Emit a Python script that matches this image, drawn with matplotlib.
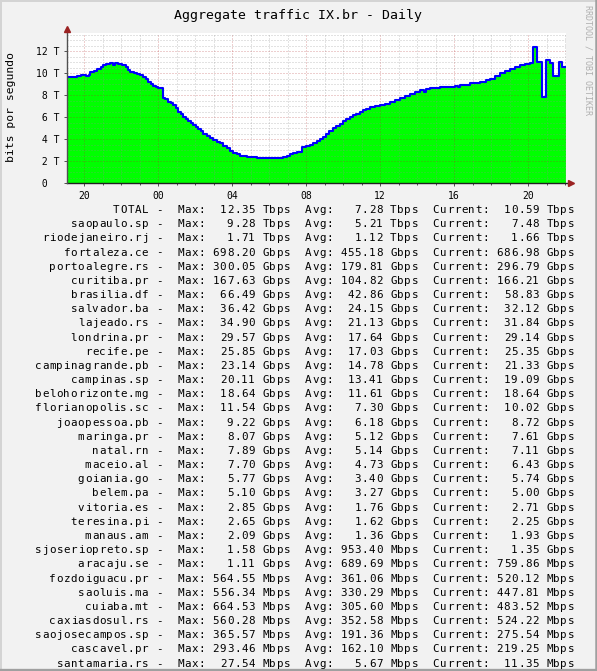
import matplotlib
matplotlib.use("Agg")
import matplotlib.pyplot as plt
from matplotlib.ticker import MultipleLocator, FuncFormatter
from matplotlib.lines import Line2D

# TOTAL traffic in Tbps, time in hours counted from midnight of the first day
hours = [19.08, 19.35, 19.60, 19.85, 20.10, 20.25, 20.35, 20.55, 20.70, 20.90,
         21.03, 21.20, 21.40, 21.55, 21.70, 21.85, 22.05, 22.25, 22.40, 22.49,
         22.70, 22.85, 23.05, 23.20, 23.35, 23.47, 23.60, 23.74, 23.88, 24.01,
         24.25, 24.40, 24.56, 24.70, 24.83, 24.97, 25.10, 25.23, 25.37, 25.50,
         25.64, 25.78, 25.91, 26.05, 26.18, 26.32, 26.45, 26.63, 26.81, 26.99,
         27.17, 27.35, 27.53, 27.71, 27.89, 28.07, 28.25, 28.43, 28.61, 28.79,
         28.97, 29.15, 29.33, 29.51, 29.69, 30.50, 30.77, 30.95, 31.13, 31.32,
         31.50, 31.77, 32.00, 32.22, 32.40, 32.58, 32.76, 32.94, 33.10, 33.26,
         33.45, 33.60, 33.84, 34.00, 34.15, 34.38, 34.55, 34.70, 34.92, 35.10,
         35.25, 35.46, 35.70, 36.00, 36.25, 36.54, 36.80, 37.08, 37.35, 37.62,
         37.90, 38.16, 38.40, 38.50, 38.70, 39.00, 39.24, 39.50, 39.78, 40.05,
         40.20, 40.32, 40.60, 40.86, 41.10, 41.40, 41.70, 41.95, 42.20, 42.49,
         42.75, 43.03, 43.30, 43.57, 43.85, 44.11, 44.29, 44.50, 44.74, 44.96,
         45.19, 45.37, 45.69, 45.82]
total_tbps = [9.6, 9.65, 9.75, 9.8, 9.75, 9.8, 10.1, 10.2, 10.4, 10.55,
              10.7, 10.8, 10.9, 10.75, 10.9, 10.8, 10.7, 10.55, 10.3, 10.06,
              10.0, 9.9, 9.8, 9.67, 9.45, 9.2, 9.0, 8.85, 8.7, 8.6,
              7.76, 7.6, 7.4, 7.25, 7.1, 6.8, 6.5, 6.25, 6.03, 5.85,
              5.64, 5.45, 5.27, 5.1, 4.9, 4.7, 4.5, 4.3, 4.12, 3.95,
              3.76, 3.6, 3.4, 3.15, 2.9, 2.75, 2.6, 2.5, 2.45, 2.4,
              2.36, 2.32, 2.3, 2.26, 2.24, 2.26, 2.4, 2.5, 2.6, 2.72,
              2.85, 3.3, 3.35, 3.45, 3.6, 3.8, 4.0, 4.2, 4.45, 4.7,
              5.0, 5.2, 5.4, 5.6, 5.8, 6.0, 6.15, 6.3, 6.5, 6.65,
              6.75, 6.9, 7.0, 7.1, 7.2, 7.4, 7.55, 7.7, 7.9, 8.06,
              8.25, 8.45, 8.3, 8.55, 8.6, 8.65, 8.7, 8.75, 8.75, 8.85,
              8.7, 8.9, 8.9, 9.06, 9.1, 9.2, 9.35, 9.5, 9.75, 9.97,
              10.2, 10.4, 10.55, 10.7, 10.8, 10.9, 12.35, 11.0, 7.85, 11.2,
              10.9, 9.7, 11.0, 10.59]
start_hour = 19.08
end_hour = 46.05

# legend table, values in Gbps
sites = ["TOTAL", "saopaulo.sp", "riodejaneiro.rj", "fortaleza.ce", "portoalegre.rs",
         "curitiba.pr", "brasilia.df", "salvador.ba", "lajeado.rs", "londrina.pr",
         "recife.pe", "campinagrande.pb", "campinas.sp", "belohorizonte.mg",
         "florianopolis.sc", "joaopessoa.pb", "maringa.pr", "natal.rn", "maceio.al",
         "goiania.go", "belem.pa", "vitoria.es", "teresina.pi", "manaus.am",
         "sjoseriopreto.sp", "aracaju.se", "fozdoiguacu.pr", "saoluis.ma", "cuiaba.mt",
         "caxiasdosul.rs", "saojosecampos.sp", "cascavel.pr", "santamaria.rs"]
max_gbps = [12350, 9280, 1710, 698.20, 300.05, 167.63, 66.49, 36.42, 34.90, 29.57,
            25.85, 23.14, 20.11, 18.64, 11.54, 9.22, 8.07, 7.89, 7.70, 5.77,
            5.10, 2.85, 2.65, 2.09, 1.58, 1.11, 0.56455, 0.55634, 0.66453,
            0.56028, 0.36557, 0.29346, 0.02754]
avg_gbps = [7280, 5210, 1120, 455.18, 179.81, 104.82, 42.86, 24.15, 21.13, 17.64,
            17.03, 14.78, 13.41, 11.61, 7.30, 6.18, 5.12, 5.14, 4.73, 3.40,
            3.27, 1.76, 1.62, 1.36, 0.95340, 0.68969, 0.36106, 0.33029, 0.30560,
            0.35258, 0.19136, 0.16210, 0.00567]
cur_gbps = [10590, 7480, 1660, 686.98, 296.79, 166.21, 58.83, 32.12, 31.84, 29.14,
            25.35, 21.33, 19.09, 18.64, 10.02, 8.72, 7.61, 7.11, 6.43, 5.74,
            5.00, 2.71, 2.25, 1.93, 1.35, 0.75986, 0.52012, 0.44781, 0.48352,
            0.52422, 0.27554, 0.21925, 0.01135]

W, H = 597, 671
BG = "#f2f2f2"
MONO = "DejaVu Sans Mono"


def fmt_bps(v):
    if v >= 1000:
        return "%6.2f Tbps" % (v / 1000)
    if v >= 1:
        return "%6.2f Gbps" % v
    return "%6.2f Mbps" % (v * 1000)


fig = plt.figure(figsize=(W / 100, H / 100), dpi=100, facecolor=BG)
ax = fig.add_axes([67 / W, 1 - 183 / H, (566 - 67) / W, 150 / H])
ax.set_facecolor("white")

xs = hours + [end_hour]
ys = total_tbps + [total_tbps[-1]]
ax.fill_between(xs, ys, 0, step="post", color="#00ff00", lw=0, zorder=1)
ax.step(xs, ys, where="post", color="#0000ff", lw=1.5, zorder=3)

ax.set_xlim(start_hour, end_hour)
ax.set_ylim(0, 150 / 11)

ax.xaxis.set_major_locator(MultipleLocator(4))
ax.xaxis.set_minor_locator(MultipleLocator(1))
ax.yaxis.set_major_locator(MultipleLocator(2))
ax.yaxis.set_minor_locator(MultipleLocator(0.5))
ax.xaxis.set_major_formatter(FuncFormatter(lambda v, p: "%02d" % (int(round(v)) % 24)))
ax.yaxis.set_major_formatter(FuncFormatter(lambda v, p: "%2d T" % v if v > 0 else " 0"))

ax.set_axisbelow(False)
ax.grid(which="minor", color="#8c8c8c", alpha=0.5, lw=0.72, ls=(0, (1, 2)))
ax.grid(which="major", color="#b03030", alpha=0.45, lw=0.72, ls=(0, (1, 2)))

for s in ax.spines.values():
    s.set_visible(False)
ax.tick_params(axis="both", which="both", direction="out", color="#505050",
               labelsize=7, labelfontfamily=MONO)
ax.tick_params(axis="x", which="major", length=2, width=0.7, pad=3.5)
ax.tick_params(axis="x", which="minor", length=1.5, width=0.7)
ax.tick_params(axis="y", which="major", length=2, width=0.7, pad=20.5)
ax.tick_params(axis="y", which="minor", length=0)
for lab in ax.get_yticklabels():
    lab.set_horizontalalignment("left")

# axis lines with rrdtool style arrows
ax.plot([0, 1.012], [0, 0], transform=ax.transAxes, clip_on=False, color="#202020", lw=1, zorder=4)
ax.plot([0, 0], [0, 1.0], transform=ax.transAxes, clip_on=False, color="#505050", lw=1, zorder=4)
ax.plot([1.011], [0], marker=">", ms=5, color="#9b2222", transform=ax.transAxes, clip_on=False, zorder=5)
ax.plot([0], [1.03], marker="^", ms=5, color="#9b2222", transform=ax.transAxes, clip_on=False, zorder=5)

fig.text(298 / W, 1 - 18.5 / H, "Aggregate traffic IX.br - Daily", ha="center", va="baseline",
         family=MONO, size=9.5)
fig.text(11 / W, 1 - 107 / H, "bits por segundo", rotation=90, ha="center", va="center",
         family=MONO, size=8.2)
fig.text(588 / W, 1 - 60 / H, "RRDTOOL / TOBI OETIKER", rotation=270, ha="center", va="center",
         family=MONO, size=6, color="#b0b0b0")

# legend table, one glyph per monospace cell
cell_w = 7.1
x0 = 34.8
base0 = 213.0
row_h = 14.175
for r, name in enumerate(sites):
    line = "%16s -  Max: %s  Avg: %s  Current: %s" % (
        name, fmt_bps(max_gbps[r]), fmt_bps(avg_gbps[r]), fmt_bps(cur_gbps[r]))
    yb = 1 - (base0 + r * row_h) / H
    for i, ch in enumerate(line):
        if ch != " ":
            fig.text((x0 + (i + 0.5) * cell_w) / W, yb, ch, ha="center", va="baseline",
                     family=MONO, size=7.8)

# 3d frame around the image
fig.add_artist(Line2D([0.5 / W, 0.5 / W], [0, 1], color="#d4d4d4", lw=1.4))
fig.add_artist(Line2D([0, 1], [1 - 0.5 / H, 1 - 0.5 / H], color="#d4d4d4", lw=1.4))
fig.add_artist(Line2D([1 - 1 / W, 1 - 1 / W], [0, 1], color="#a0a0a0", lw=1.8))
fig.add_artist(Line2D([0, 1], [1.2 / H, 1.2 / H], color="#a0a0a0", lw=2.4))

fig.savefig("out.png", dpi=100, facecolor=BG)
